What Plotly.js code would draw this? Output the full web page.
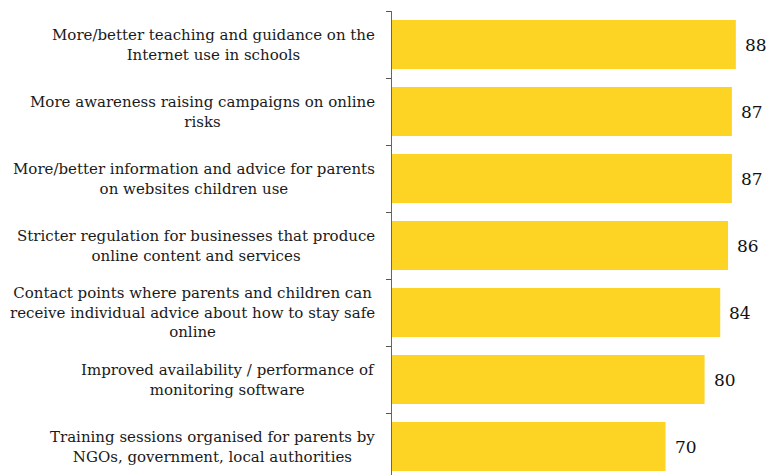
<!DOCTYPE html>
<html>
<head>
<meta charset="utf-8">
<script src="https://cdn.plot.ly/plotly-3.0.1.min.js"></script>
<style>html,body{margin:0;padding:0;background:#fff;overflow:hidden;}</style>
</head>
<body>
<div id="chart" style="width:771px;height:475px;"></div>
<script>
const categories = [
  "More/better teaching and guidance on the<br>Internet use in schools",
  "More awareness raising campaigns on online<br>risks",
  "More/better information and advice for parents<br>on websites children use",
  "Stricter regulation for businesses that produce<br>online content and services",
  "Contact points where parents and children can<br>receive individual advice about how to stay safe<br>online",
  "Improved availability / performance of<br>monitoring software",
  "Training sessions organised for parents by<br>NGOs, government, local authorities"
];
const values = [88, 87, 87, 86, 84, 80, 70];
const valueLabels = ["88", "87", "87", "86", "84", "80", "70"];

const FONT = 'Georgia, "DejaVu Serif", serif';

const trace = {
  type: 'bar',
  orientation: 'h',
  x: values,
  y: categories,
  marker: { color: '#FDD424', line: { width: 0 } },
  hoverinfo: 'none'
};

const annotations = [];
categories.forEach((c, i) => {
  annotations.push({
    xref: 'paper', yref: 'y', x: 0, y: c,
    text: c, showarrow: false,
    xanchor: 'right', yanchor: 'middle', align: 'center',
    xshift: -15,
    font: { family: FONT, size: 15, color: '#1a1a1a' }
  });
  annotations.push({
    xref: 'x', yref: 'y', x: values[i], y: c,
    text: valueLabels[i], showarrow: false,
    xanchor: 'left', yanchor: 'middle',
    xshift: 7,
    font: { family: FONT, size: 17, color: '#111' }
  });
});

const layout = {
  width: 771, height: 475,
  margin: { l: 392, r: 0, t: 11, b: 0, pad: 0 },
  paper_bgcolor: '#fff', plot_bgcolor: '#fff',
  bargap: 0.27,
  showlegend: false,
  xaxis: { range: [0, 97], visible: false, showgrid: false, zeroline: false },
  yaxis: {
    type: 'category',
    categoryorder: 'array', categoryarray: categories,
    range: [6.425, -0.5],
    showticklabels: false,
    showline: true, linecolor: '#666', linewidth: 1,
    ticks: 'outside', tickson: 'boundaries', ticklen: 5, tickcolor: '#555', tickwidth: 1,
    showgrid: false, zeroline: false
  },
  annotations: annotations,
  font: { family: FONT }
};

Plotly.newPlot('chart', [trace], layout, { displayModeBar: false, staticPlot: true });
</script>
</body>
</html>
